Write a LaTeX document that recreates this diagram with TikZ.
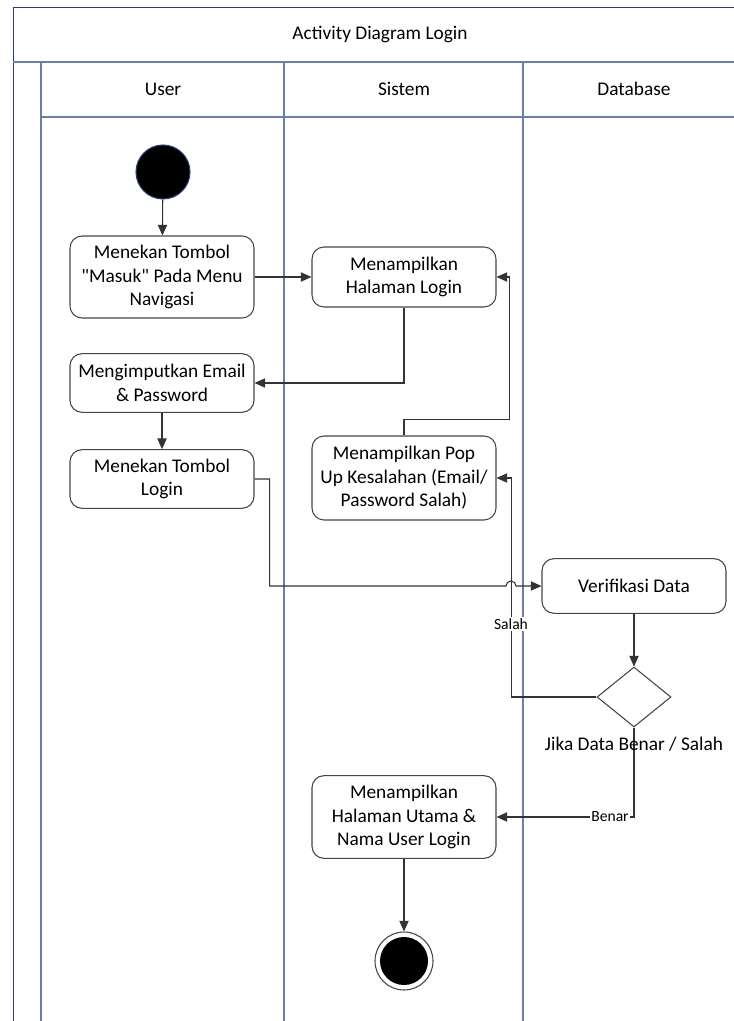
\documentclass[tikz,border=0pt]{standalone}
\usepackage{fontspec}
\setmainfont{Carlito}
\newfontfamily\lurus{Carlito}
\usetikzlibrary{shapes,shapes.geometric,arrows,positioning,calc,arrows.meta}

\definecolor{lanecol}{RGB}{110,126,170}
\definecolor{framecol}{RGB}{47,62,120}
\definecolor{boxcol}{RGB}{70,70,70}

\begin{document}
\begin{tikzpicture}[x=0.75pt, y=-0.75pt, >={Triangle[length=8pt,width=7pt]}, thick,
    act/.style={draw=boxcol, rounded corners=9pt, fill=white, align=center,
        minimum width=138pt, inner sep=0pt, font=\fontsize{14.5}{17.6}\selectfont},
    lane/.style={draw=lanecol, line width=1.4pt},
    hdr/.style={font=\fontsize{14.5}{17}\selectfont},
    flow/.style={draw=black!80, ->},
    guard/.style={fill=white, inner sep=1pt, font=\fontsize{11.7}{13}\selectfont}]
    \useasboundingbox (0,0) rectangle (734,1021);

    % swimlanes
    \draw[framecol, semithick] (734,7) -- (13,7) -- (13,1021);
    \draw[lane] (13,62) -- (734,62);
    \draw[lane] (41,117) -- (734,117);
    \foreach \x in {41, 284, 523} {
        \draw[lane] (\x,62) -- (\x,1021);
    }
    \node[hdr] (judul) at (380,34) {Activity Diagram Login};
    \node[hdr] (hUser) at (163,89) {User};
    \node[hdr] (hSistem) at (404,89) {Sistem};
    \node[hdr] (hDb) at (634,89) {Database};

    % activities
    \node[circle, fill=black, draw=framecol, minimum size=40.5pt, inner sep=0pt] (mulai) at (163,172) {};
    \node[act, minimum height=61.5pt] (masuk) at (162,277) {Menekan Tombol\\{\lurus"}Masuk{\lurus"} Pada Menu\\Navigasi};
    \node[act, minimum height=45pt] (login) at (404,277) {Menampilkan\\Halaman Login};
    \node[act, minimum height=44pt] (email) at (162,383) {Mengimputkan Email\\\& Password};
    \node[act, minimum height=44pt] (tombol) at (162,479) {Menekan Tombol\\Login};
    \node[act, minimum height=63pt] (popup) at (404,478) {Menampilkan Pop\\Up Kesalahan (Email/\\Password Salah)};
    \node[act, minimum height=41pt] (verif) at (634,586) {Verifikasi Data};
    \node[diamond, draw=boxcol, fill=white, minimum width=55.5pt, minimum height=45pt, inner sep=0pt] (cek) at (634,697) {};
    \node[act, minimum height=62pt] (utama) at (404,817) {Menampilkan\\Halaman Utama \&\\Nama User Login};
    \node[circle, draw=boxcol, minimum size=43.5pt, inner sep=0pt,
        path picture={\fill (path picture bounding box.center) circle (18pt);}] (akhir) at (404,961) {};
    \coordinate (lompat) at (506,586);

    % flows
    \draw[flow] (mulai) -- (masuk);
    \draw[flow] (masuk) -- (login);
    \draw[flow] (login.south) |- (email.east);
    \draw[flow] (email) -- (tombol);
    \draw[flow] (popup.north) -- ++(0,-16) -| ($(login.east)+(13,0)$) -- (login.east);
    \draw[flow] (cek.west) -| ($(popup.east)+(15,0)$) -- (popup.east);
    \draw[flow] (tombol.east) -- ++(15,0) |- (lompat)
        arc[start angle=180, end angle=360, radius=5] -- (verif.west);
    \draw[flow] (verif) -- (cek);
    \draw[flow] (cek.south) |- (utama.east);
    \draw[flow] (utama) -- (akhir);

    \node[guard] (salahl) at (511,624) {Salah};
    \node[guard] (benarl) at (610,817) {Benar};
    \node[hdr] (cekl) at (634,744) {Jika Data Benar / Salah};
\end{tikzpicture}
\end{document}
